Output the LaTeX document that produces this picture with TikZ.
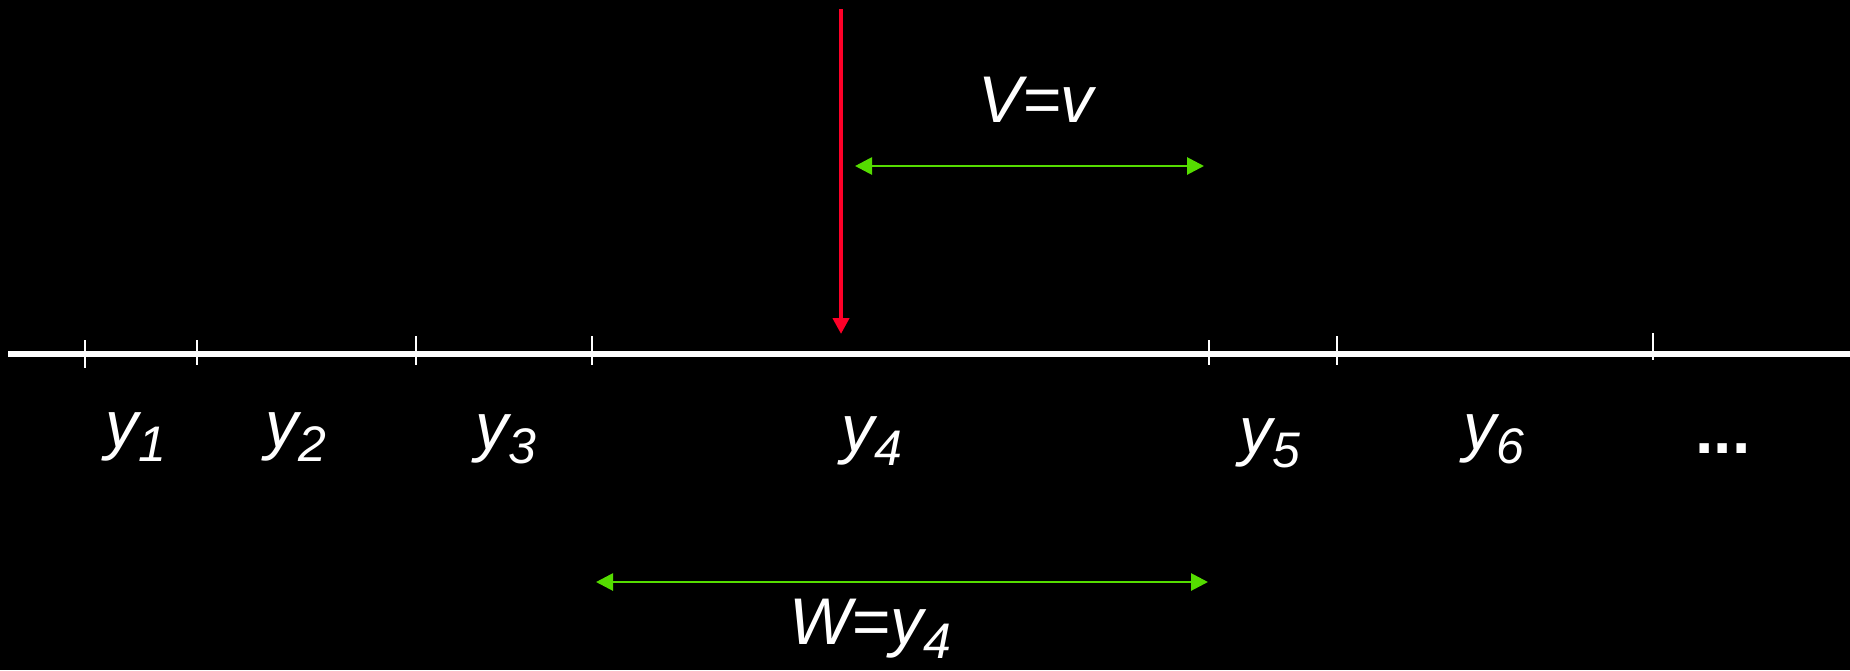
\documentclass[tikz,border=0pt]{standalone}
\usepackage{fontspec}
\setmainfont{Liberation Sans}
\usetikzlibrary{arrows.meta}
\definecolor{markred}{RGB}{255,0,40}
\definecolor{spangreen}{RGB}{85,220,0}
\tikzstyle{axisline} = [white, line width=2.6pt]
\tikzstyle{tickmark} = [white, line width=1.2pt]
\tikzstyle{lab} = [white, inner sep=0pt, font=\fontsize{33}{40}\selectfont\itshape]
\tikzstyle{span} = [{Triangle[length=8.5pt,width=8.5pt]}-{Triangle[length=8.5pt,width=8.5pt]}, spangreen, line width=1.4pt]
\tikzstyle{drop} = [-{Triangle[length=8pt,width=8pt]}, markred, line width=2pt]
\newcommand{\sbs}[1]{\raisebox{-7pt}{\fontsize{25}{28}\selectfont #1}}

\begin{document}
\begin{tikzpicture}[x=0.5pt, y=-0.5pt]

  \fill[black] (0,0) rectangle (1850,670);
  \useasboundingbox (0,0) rectangle (1850,670);

  % axis and cell borders
  \coordinate (axl) at (8,354);
  \coordinate (axr) at (1850,354);
  \draw[axisline] (axl) -- (axr);

  \foreach \i/\x/\t/\b in {1/85/340/368, 2/197/340/365, 3/416/336/365, 4/592/336/365,
                           5/1209/340/365, 6/1337/336/365, 7/1653/333/360}
    \draw[tickmark] (\x,\t) -- (\x,\b) coordinate (t\i);

  % cell labels
  \node[lab] (y1) at (136,437) {y\sbs{1}};
  \node[lab] (y2) at (296,437) {y\sbs{2}};
  \node[lab] (y3) at (506,439) {y\sbs{3}};
  \node[lab] (y4) at (872,441) {y\sbs{4}};
  \node[lab] (y5) at (1270,443) {y\sbs{5}};
  \node[lab] (y6) at (1494,439) {y\sbs{6}};
  \node[lab, font=\fontsize{33}{40}\selectfont\bfseries] (dots) at (1723,449) {...};

  % drop point
  \coordinate (rtop) at (841,9);
  \coordinate (rtip) at (841,334);
  \draw[drop] (rtop) -- (rtip);

  % distances
  \coordinate (vl) at (855,166);
  \coordinate (vr) at (1204,166);
  \draw[span] (vl) -- (vr);
  \node[lab] (vlab) at (1036,100) {V=v};

  \coordinate (wl) at (596,582);
  \coordinate (wr) at (1208,582);
  \draw[span] (wl) -- (wr);
  \node[lab] (wlab) at (870,629) {W=y\sbs{4}};

\end{tikzpicture}
\end{document}
